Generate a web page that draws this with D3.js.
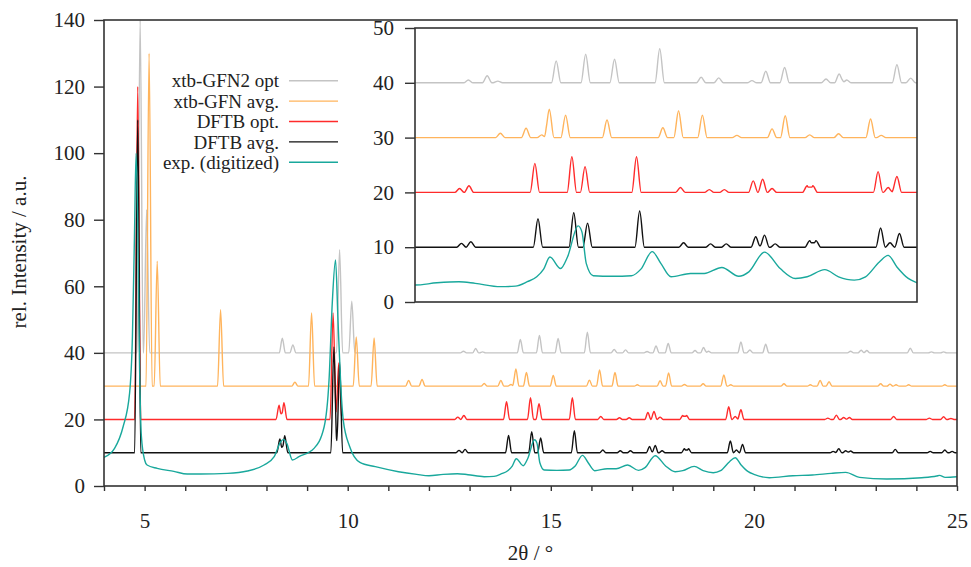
<!DOCTYPE html>
<html>

<head>
  <meta charset="utf-8">
  <title>PXRD: simulated vs experimental</title>
  <script src="https://cdn.jsdelivr.net/npm/d3@7"></script>
  <style>
    body {
      margin: 0;
      background: #fff;
    }

    svg {
      display: block;
    }

    svg text {
      font-family: "Liberation Serif", "DejaVu Serif", serif;
    }
  </style>
</head>

<body>
  <main id="container"></main>

  <script>
    // legend / series setup
    const seriesNames = ["xtb-GFN2 opt", "xtb-GFN avg.", "DFTB opt.", "DFTB avg.", "exp. (digitized)"]
    const seriesColors = ["#c4c4c4", "#ffb45c", "#ff2b2b", "#111111", "#19a89c"]
    const seriesOffsets = [40, 30, 20, 10]

    // simulated peaks: [2theta, intensity above the offset baseline]
    const gfn2OptPeaks = [
      [4.89, 100], [5.05, 43], [8.39, 4.4], [8.65, 2.4], [9.80, 31], [10.10, 15.5],
      [12.85, 0.5], [13.15, 1.3], [13.32, 0.3], [14.25, 4.0], [14.72, 5.2], [15.18, 4.3],
      [15.90, 6.2], [16.56, 1.0], [16.84, 0.9], [17.37, 0.4], [17.59, 2.1], [17.89, 2.8],
      [18.55, 0.7], [18.76, 1.6], [18.88, 0.5], [19.68, 3.3], [19.90, 0.85], [20.29, 2.6],
      [22.38, 0.5], [22.64, 0.8], [22.78, 0.7], [23.85, 1.4], [24.37, 0.3], [24.67, 0.3]
    ]
    const gfnAvgPeaks = [
      [5.11, 100], [5.31, 37.5], [6.87, 23], [8.70, 1.2], [9.11, 22], [10.21, 14.8],
      [10.65, 14.5], [11.50, 1.7], [11.83, 2.0], [13.36, 0.8], [13.77, 1.7], [14.02, 0.5],
      [14.14, 5.2], [14.40, 4.1], [15.06, 3.2], [15.95, 1.8], [16.20, 4.9], [16.58, 4.1],
      [17.13, 0.4], [17.69, 1.6], [17.90, 4.0], [18.29, 0.5], [18.75, 0.7], [19.26, 3.4],
      [19.43, 0.4], [20.74, 0.7], [21.39, 0.4], [21.63, 1.7], [21.85, 1.3], [23.12, 0.7],
      [23.35, 0.6], [23.50, 0.4], [23.81, 0.4], [24.70, 0.4]
    ]
    const dftbOptPeaks = [
      [4.83, 100], [8.31, 4.3], [8.43, 5.0], [9.64, 32], [9.78, 17],
      [12.71, 0.7], [12.86, 1.2], [13.91, 5.3], [14.50, 6.5], [14.71, 4.7], [15.53, 6.5],
      [16.23, 0.9], [16.69, 0.5], [16.93, 0.5], [17.39, 2.1], [17.54, 2.4], [17.69, 0.7],
      [18.25, 1.2], [18.34, 1.2], [19.38, 3.8], [19.54, 0.9], [19.68, 2.9], [21.82, 0.4],
      [22.03, 1.3], [22.21, 0.6], [22.35, 0.6], [23.44, 0.9], [24.32, 0.4], [24.67, 0.8],
      [24.85, 0.3]
    ]
    const dftbAvgPeaks = [
      [4.83, 100], [8.33, 4.1], [8.45, 5.1], [9.66, 31.8], [9.80, 27.3],
      [12.74, 0.7], [12.89, 1.0], [13.96, 5.2], [14.53, 6.3], [14.75, 4.4], [15.58, 6.6],
      [16.28, 0.8], [16.71, 0.6], [16.96, 0.6], [17.43, 1.9], [17.57, 2.2], [17.74, 0.6],
      [18.29, 1.2], [18.39, 1.2], [19.42, 3.5], [19.57, 0.8], [19.72, 2.5], [21.95, 0.4],
      [22.09, 1.2], [22.26, 0.6], [22.38, 0.5], [23.48, 1.0], [24.34, 0.4], [24.70, 0.8],
      [24.88, 0.4]
    ]

    // digitized experimental pattern: [2theta, intensity]
    const expCurve = [
      [4.00, 8.6], [4.26, 11.3], [4.47, 17.8], [4.63, 27.9], [4.70, 45], [4.75, 75],
      [4.79, 100], [4.83, 80], [4.87, 40], [4.92, 15], [5.00, 7.8], [5.06, 6.3],
      [5.31, 5.3], [5.72, 4.4], [6.05, 3.6], [6.38, 3.6], [7.04, 3.8], [7.53, 4.5],
      [7.94, 6.3], [8.19, 8.8], [8.35, 13.3], [8.42, 14.0], [8.50, 12.8], [8.64, 7.8],
      [8.80, 8.8], [9.17, 11.3], [9.42, 17.8], [9.54, 31.8], [9.62, 55], [9.70, 67.9],
      [9.76, 50], [9.83, 30], [9.89, 19.8], [10.05, 11.8], [10.30, 7.1], [10.68, 5.8],
      [11.25, 4.3], [11.70, 3.5], [12.00, 3.1], [12.35, 3.5], [12.70, 3.7], [12.96, 3.4],
      [13.36, 2.8], [13.60, 2.9], [13.79, 3.7], [13.94, 4.6], [14.05, 6.0], [14.15, 8.2],
      [14.32, 6.1], [14.43, 8.2], [14.60, 13.9], [14.66, 12.8], [14.73, 7.0], [14.84, 4.8],
      [15.15, 4.7], [15.45, 4.8], [15.60, 6.0], [15.78, 9.2], [15.92, 7.0], [16.08, 4.6],
      [16.39, 5.2], [16.61, 5.2], [16.89, 6.3], [17.16, 4.7], [17.32, 5.5], [17.57, 9.1],
      [17.82, 6.1], [18.06, 4.3], [18.25, 4.6], [18.53, 5.9], [18.75, 4.6], [19.00, 4.0],
      [19.18, 4.6], [19.40, 7.3], [19.54, 8.5], [19.68, 6.4], [19.86, 4.3], [20.00, 3.5],
      [20.38, 2.5], [20.96, 3.1], [21.44, 3.3], [21.90, 3.8], [22.26, 4.1], [22.60, 2.6],
      [23.27, 2.1], [24.13, 2.5], [24.50, 3.0], [24.57, 3.2], [24.71, 2.6], [25.00, 2.8]
    ]

    // tick labels
    const xTickLabels = [5, 10, 15, 20, 25]
    const yTicksMain = [0, 20, 40, 60, 80, 100, 120, 140]
    const yTicksInset = [0, 10, 20, 30, 40, 50]

    // useful setup variables
    const vizWidth = 971
    const vizHeight = 567
    const plot = { left: 104, right: 957, top: 20, bottom: 486 }
    const inset = { left: 415, right: 917, top: 28, bottom: 302 }
    const peakWidth = 0.075
    const fontFamily = "Liberation Serif, DejaVu Serif, serif"

    const peakSeries = [gfn2OptPeaks, gfnAvgPeaks, dftbOptPeaks, dftbAvgPeaks]

    // vertices of a stick pattern broadened into narrow peaks
    const peakProfile = (peaks, offset, x0, x1) => {
      let keys = [x0, x1]
      peaks.forEach(([p]) => keys.push(p - peakWidth, p, p + peakWidth))
      keys = Array.from(new Set(keys.filter(k => k >= x0 && k <= x1).map(k => +k.toFixed(4))))
        .sort((a, b) => a - b)
      return keys.map(k => [k, offset + (d3.max(peaks, ([p, h]) => Math.max(0, h * (1 - Math.abs(k - p) / peakWidth))) || 0)])
    }

    // setup SVG
    const svg = d3.select("#container")
      .append("svg")
      .attr("width", vizWidth)
      .attr("height", vizHeight)
      .attr("font-family", fontFamily)

    const defs = svg.append("defs")
    defs.append("clipPath").attr("id", "clipMain")
      .append("rect")
      .attr("x", plot.left).attr("y", plot.top - 2)
      .attr("width", plot.right - plot.left).attr("height", plot.bottom - plot.top + 2)
    defs.append("clipPath").attr("id", "clipInset")
      .append("rect")
      .attr("x", inset.left).attr("y", inset.top)
      .attr("width", inset.right - inset.left).attr("height", inset.bottom - inset.top)

    // setup Scales
    const xMain = d3.scaleLinear().domain([4, 25]).range([plot.left, plot.right])
    const yMain = d3.scaleLinear().domain([0, 140]).range([plot.bottom, plot.top])
    const xInset = d3.scaleLinear().domain([12, 20]).range([inset.left, inset.right])
    const yInset = d3.scaleLinear().domain([0, 50]).range([inset.bottom, inset.top])

    const drawCurves = (group, xs, ys) => {
      const line = d3.line()
        .x(d => xs(d[0]))
        .y(d => ys(d[1]))
        .curve(d3.curveMonotoneX)
      const [x0, x1] = xs.domain()
      const curves = peakSeries.map((peaks, i) => peakProfile(peaks, seriesOffsets[i], x0, x1))
      curves.push(expCurve)
      group.selectAll("path")
        .data(curves)
        .join("path")
        .attr("fill", "none")
        .attr("stroke", (d, i) => seriesColors[i])
        .attr("stroke-width", 1.4)
        .attr("stroke-linejoin", "round")
        .attr("d", line)
    }

    // draw main graph
    drawCurves(svg.append("g").attr("clip-path", "url(#clipMain)"), xMain, yMain)

    svg.append("rect")
      .attr("x", plot.left).attr("y", plot.top)
      .attr("width", plot.right - plot.left).attr("height", plot.bottom - plot.top)
      .attr("fill", "none").attr("stroke", "#333").attr("stroke-width", 1.6)

    // draw main axes
    const styleAxis = g => {
      g.attr("font-family", fontFamily).attr("font-size", 21)
      g.select(".domain").remove()
      g.selectAll(".tick line").attr("stroke", "#333").attr("stroke-width", 1.4)
      g.selectAll(".tick text").attr("fill", "#222")
    }

    svg.append("g")
      .attr("transform", `translate(0, ${plot.bottom})`)
      .call(d3.axisBottom(xMain)
        .tickValues(d3.range(4, 26))
        .tickSize(5)
        .tickPadding(22)
        .tickFormat(d => xTickLabels.includes(d) ? d : ""))
      .call(styleAxis)

    svg.append("g")
      .attr("transform", `translate(${plot.left}, 0)`)
      .call(d3.axisLeft(yMain).tickValues(yTicksMain).tickSize(10).tickPadding(9))
      .call(styleAxis)

    svg.append("text")
      .attr("x", (plot.left + plot.right) / 2)
      .attr("y", 560)
      .attr("text-anchor", "middle")
      .attr("fill", "#222")
      .attr("font-size", 21)
      .text("2θ / °")

    svg.append("text")
      .attr("transform", `translate(26, 252) rotate(-90)`)
      .attr("text-anchor", "middle")
      .attr("fill", "#222")
      .attr("font-size", 21)
      .text("rel. Intensity / a.u.")

    // legend
    const legend = svg.append("g")
    const legendRows = legend.selectAll("g")
      .data(seriesNames)
      .join("g")
      .attr("transform", (d, i) => `translate(0, ${80.7 + i * 20.4})`)
    legendRows.append("text")
      .attr("x", 279)
      .attr("dy", "0.35em")
      .attr("text-anchor", "end")
      .attr("fill", "#222")
      .attr("font-size", 19)
      .text(d => d)
    legendRows.append("line")
      .attr("x1", 289).attr("x2", 338)
      .attr("stroke", (d, i) => seriesColors[i])
      .attr("stroke-width", 1.4)

    // inset
    svg.append("rect")
      .attr("x", inset.left).attr("y", inset.top)
      .attr("width", inset.right - inset.left).attr("height", inset.bottom - inset.top)
      .attr("fill", "#fff")

    drawCurves(svg.append("g").attr("clip-path", "url(#clipInset)"), xInset, yInset)

    svg.append("rect")
      .attr("x", inset.left).attr("y", inset.top)
      .attr("width", inset.right - inset.left).attr("height", inset.bottom - inset.top)
      .attr("fill", "none").attr("stroke", "#333").attr("stroke-width", 1.6)

    svg.append("g")
      .attr("transform", `translate(${inset.left}, 0)`)
      .call(d3.axisLeft(yInset).tickValues(yTicksInset).tickSize(10).tickPadding(11))
      .call(styleAxis)
  </script>
</body>

</html>
